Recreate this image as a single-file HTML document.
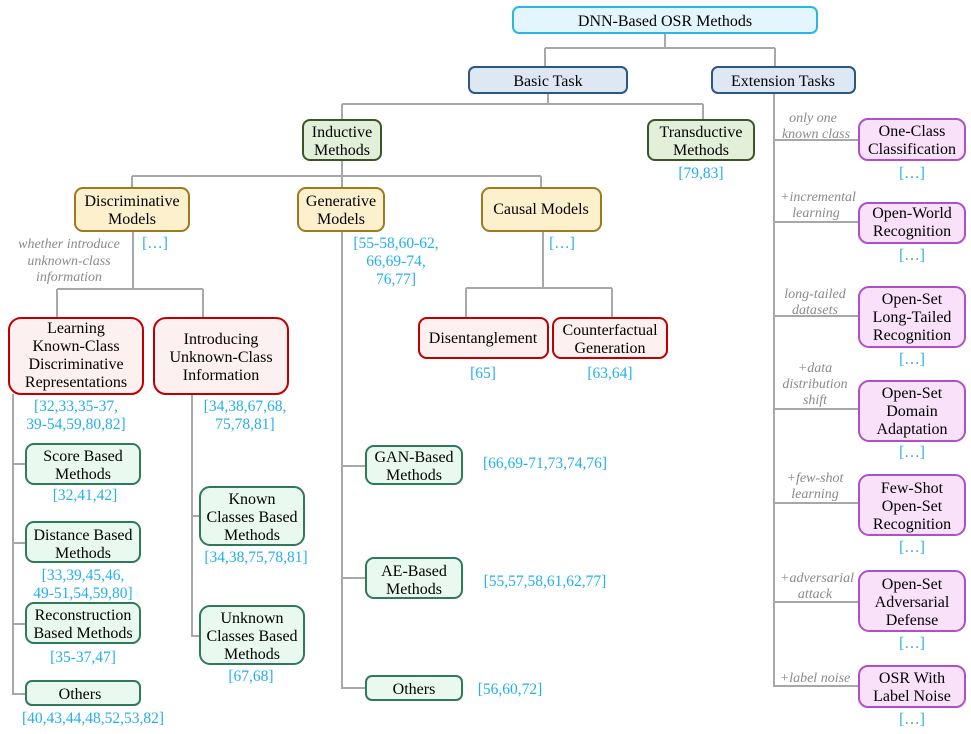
<!DOCTYPE html>
<html><head><meta charset="utf-8"><style>
html,body{margin:0;padding:0;background:#fff;}
svg{display:block;}
text{font-family:"Liberation Serif",serif;}
.t{font-size:16px;fill:#000;text-anchor:middle;}
.r{font-size:15.5px;fill:#22b0ee;text-anchor:middle;}
.l{font-size:14px;fill:#8a8a8a;font-style:italic;text-anchor:middle;}
.ln{stroke:#a8a8a8;stroke-width:2;fill:none;}
.cy{fill:#e4f6fd;stroke:#2bb5e6;stroke-width:2;}
.bl{fill:#dde8f4;stroke:#2c5782;stroke-width:2;}
.gr{fill:#e2efd9;stroke:#3b5527;stroke-width:2;}
.ye{fill:#fdf0cc;stroke:#9c7a20;stroke-width:2;}
.rd{fill:#fdf0f0;stroke:#c00000;stroke-width:2;}
.tl{fill:#e9f9f0;stroke:#2e7a5a;stroke-width:2;}
.pu{fill:#f9e1f9;stroke:#b050c8;stroke-width:2;}
</style></head><body>
<svg width="971" height="734" viewBox="0 0 971 734" xmlns="http://www.w3.org/2000/svg">
<!-- connectors -->
<path class="ln" d="M665 33V48M545 48H775M545 48V67M775 48V67"/>
<path class="ln" d="M548 93V104M342 104H703M342 104V120M703 104V120"/>
<path class="ln" d="M342 160V176M132 176H541M132 176V188M342 176V188M541 176V188"/>
<path class="ln" d="M133 231V289M57 289H203M57 289V318M203 289V318"/>
<path class="ln" d="M543 231V288M466 288H612M466 288V318M612 288V318"/>
<path class="ln" d="M342 231V688H366M342 466H366M342 578H366"/>
<path class="ln" d="M13 394V694H26M13 464H26M13 543H26M13 624H26"/>
<path class="ln" d="M192 394V636H200M192 516H200"/>
<path class="ln" d="M774 93V686H859M774 140H859M774 222H859M774 316H859M774 409H859M774 503H859M774 602H859"/>
<!-- boxes -->
<rect class="cy" x="513" y="7" width="304" height="26" rx="6"/>
<text class="t" x="665" y="26">DNN-Based OSR Methods</text>
<rect class="bl" x="469" y="67" width="158" height="26" rx="6"/>
<text class="t" x="548" y="86">Basic Task</text>
<rect class="bl" x="712" y="67" width="143" height="26" rx="6"/>
<text class="t" x="783" y="86">Extension Tasks</text>
<rect class="gr" x="303" y="120" width="78" height="40" rx="7"/>
<text class="t" x="342" y="137">Inductive</text><text class="t" x="342" y="155">Methods</text>
<rect class="gr" x="648" y="120" width="106" height="40" rx="7"/>
<text class="t" x="701" y="137">Transductive</text><text class="t" x="701" y="155">Methods</text>
<text class="r" x="701" y="178">[79,83]</text>
<rect class="ye" x="75" y="188" width="114" height="43" rx="8"/>
<text class="t" x="132" y="206">Discriminative</text><text class="t" x="132" y="224">Models</text>
<text class="r" x="155" y="248">[…]</text>
<text class="l" x="69" y="248">whether introduce</text><text class="l" x="69" y="265">unknown-class</text><text class="l" x="69" y="281">information</text>
<rect class="ye" x="298" y="188" width="86" height="43" rx="8"/>
<text class="t" x="341" y="206">Generative</text><text class="t" x="341" y="224">Models</text>
<text class="r" x="396" y="248">[55-58,60-62,</text><text class="r" x="396" y="266">66,69-74,</text><text class="r" x="396" y="284">76,77]</text>
<rect class="ye" x="482" y="188" width="119" height="43" rx="8"/>
<text class="t" x="541" y="214">Causal Models</text>
<text class="r" x="562" y="248">[…]</text>
<rect class="rd" x="9" y="318" width="134" height="76" rx="12"/>
<text class="t" x="76" y="333">Learning</text><text class="t" x="76" y="351">Known-Class</text><text class="t" x="76" y="369">Discriminative</text><text class="t" x="76" y="387">Representations</text>
<text class="r" x="76" y="411">[32,33,35-37,</text><text class="r" x="76" y="429">39-54,59,80,82]</text>
<rect class="rd" x="154" y="318" width="134" height="76" rx="12"/>
<text class="t" x="221" y="344">Introducing</text><text class="t" x="221" y="362">Unknown-Class</text><text class="t" x="221" y="380">Information</text>
<text class="r" x="245" y="411">[34,38,67,68,</text><text class="r" x="245" y="429">75,78,81]</text>
<rect class="rd" x="419" y="318" width="129" height="40" rx="8"/>
<text class="t" x="483" y="343">Disentanglement</text>
<text class="r" x="483" y="378">[65]</text>
<rect class="rd" x="553" y="318" width="114" height="40" rx="8"/>
<text class="t" x="610" y="335">Counterfactual</text><text class="t" x="610" y="353">Generation</text>
<text class="r" x="610" y="378">[63,64]</text>
<rect class="tl" x="26" y="444" width="114" height="40" rx="8"/>
<text class="t" x="83" y="461">Score Based</text><text class="t" x="83" y="479">Methods</text>
<text class="r" x="85" y="500">[32,41,42]</text>
<rect class="tl" x="26" y="522" width="114" height="40" rx="8"/>
<text class="t" x="83" y="540">Distance Based</text><text class="t" x="83" y="558">Methods</text>
<text class="r" x="83" y="580">[33,39,45,46,</text><text class="r" x="83" y="598">49-51,54,59,80]</text>
<rect class="tl" x="26" y="603" width="114" height="40" rx="8"/>
<text class="t" x="83" y="620">Reconstruction</text><text class="t" x="83" y="638">Based Methods</text>
<text class="r" x="83" y="662">[35-37,47]</text>
<rect class="tl" x="26" y="681" width="114" height="24" rx="6"/>
<text class="t" x="80" y="699">Others</text>
<text class="r" x="93" y="723">[40,43,44,48,52,53,82]</text>
<rect class="tl" x="200" y="487" width="104" height="58" rx="10"/>
<text class="t" x="252" y="504">Known</text><text class="t" x="252" y="522">Classes Based</text><text class="t" x="252" y="540">Methods</text>
<text class="r" x="256" y="562">[34,38,75,78,81]</text>
<rect class="tl" x="200" y="606" width="104" height="58" rx="10"/>
<text class="t" x="252" y="623">Unknown</text><text class="t" x="252" y="641">Classes Based</text><text class="t" x="252" y="659">Methods</text>
<text class="r" x="251" y="681">[67,68]</text>
<rect class="tl" x="366" y="446" width="96" height="38" rx="8"/>
<text class="t" x="414" y="462">GAN-Based</text><text class="t" x="414" y="480">Methods</text>
<text class="r" x="545" y="468">[66,69-71,73,74,76]</text>
<rect class="tl" x="366" y="558" width="96" height="40" rx="8"/>
<text class="t" x="414" y="576">AE-Based</text><text class="t" x="414" y="594">Methods</text>
<text class="r" x="545" y="586">[55,57,58,61,62,77]</text>
<rect class="tl" x="366" y="676" width="96" height="24" rx="6"/>
<text class="t" x="414" y="694">Others</text>
<text class="r" x="510" y="694">[56,60,72]</text>
<!-- extension -->
<text class="l" x="813" y="122">only one</text><text class="l" x="816" y="138">known class</text>
<rect class="pu" x="859" y="119" width="106" height="41" rx="9"/>
<text class="t" x="912" y="136">One-Class</text><text class="t" x="912" y="154">Classification</text>
<text class="r" x="912" y="178">[…]</text>
<text class="l" x="818" y="201">+incremental</text><text class="l" x="816" y="217">learning</text>
<rect class="pu" x="859" y="203" width="106" height="40" rx="9"/>
<text class="t" x="912" y="218">Open-World</text><text class="t" x="912" y="236">Recognition</text>
<text class="r" x="912" y="260">[…]</text>
<text class="l" x="815" y="298">long-tailed</text><text class="l" x="815" y="314">datasets</text>
<rect class="pu" x="859" y="287" width="106" height="60" rx="10"/>
<text class="t" x="912" y="304">Open-Set</text><text class="t" x="912" y="322">Long-Tailed</text><text class="t" x="912" y="340">Recognition</text>
<text class="r" x="912" y="364">[…]</text>
<text class="l" x="815" y="372">+data</text><text class="l" x="815" y="388">distribution</text><text class="l" x="815" y="404">shift</text>
<rect class="pu" x="859" y="381" width="106" height="60" rx="10"/>
<text class="t" x="912" y="398">Open-Set</text><text class="t" x="912" y="416">Domain</text><text class="t" x="912" y="434">Adaptation</text>
<text class="r" x="912" y="457">[…]</text>
<text class="l" x="815" y="482">+few-shot</text><text class="l" x="815" y="498">learning</text>
<rect class="pu" x="859" y="475" width="106" height="60" rx="10"/>
<text class="t" x="912" y="493">Few-Shot</text><text class="t" x="912" y="511">Open-Set</text><text class="t" x="912" y="529">Recognition</text>
<text class="r" x="912" y="552">[…]</text>
<text class="l" x="817" y="582">+adversarial</text><text class="l" x="815" y="598">attack</text>
<rect class="pu" x="859" y="571" width="106" height="60" rx="10"/>
<text class="t" x="912" y="589">Open-Set</text><text class="t" x="912" y="607">Adversarial</text><text class="t" x="912" y="625">Defense</text>
<text class="r" x="912" y="648">[…]</text>
<text class="l" x="815" y="682">+label noise</text>
<rect class="pu" x="859" y="666" width="106" height="41" rx="9"/>
<text class="t" x="912" y="683">OSR With</text><text class="t" x="912" y="701">Label Noise</text>
<text class="r" x="912" y="724">[…]</text>
</svg>
</body></html>
